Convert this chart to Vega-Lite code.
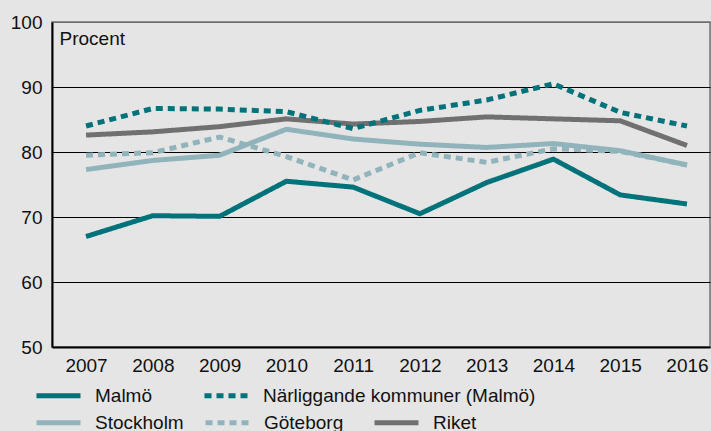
{
  "$schema": "https://vega.github.io/schema/vega-lite/v6.json",
  "width": 658,
  "height": 325,
  "autosize": "none",
  "padding": {"left": 52, "top": 22, "right": 1, "bottom": 84},
  "background": "#e5e5e5",
  "config": {
    "font": "Liberation Sans",
    "view": {"stroke": "#6f6f6f", "strokeWidth": 1.5},
    "axis": {"labelFont": "Liberation Sans", "labelFontSize": 19, "labelColor": "#111", "ticks": false, "domainColor": "#000", "domainWidth": 2},
    "legend": {"labelFont": "Liberation Sans", "labelFontSize": 19, "labelColor": "#111", "labelLimit": 400, "symbolType": "stroke", "symbolSize": 1936, "symbolStrokeWidth": 5, "labelOffset": 12, "padding": 0, "direction": "horizontal", "orient": "none"}
  },
  "datasets": {
    "a": [
      {"year": 2007, "serie": "Malmö", "value": 67.0},
      {"year": 2008, "serie": "Malmö", "value": 70.2},
      {"year": 2009, "serie": "Malmö", "value": 70.1},
      {"year": 2010, "serie": "Malmö", "value": 75.5},
      {"year": 2011, "serie": "Malmö", "value": 74.6},
      {"year": 2012, "serie": "Malmö", "value": 70.5},
      {"year": 2013, "serie": "Malmö", "value": 75.3},
      {"year": 2014, "serie": "Malmö", "value": 78.9},
      {"year": 2015, "serie": "Malmö", "value": 73.4},
      {"year": 2016, "serie": "Malmö", "value": 72.0},
      {"year": 2007, "serie": "Närliggande kommuner (Malmö)", "value": 84.0},
      {"year": 2008, "serie": "Närliggande kommuner (Malmö)", "value": 86.7},
      {"year": 2009, "serie": "Närliggande kommuner (Malmö)", "value": 86.6},
      {"year": 2010, "serie": "Närliggande kommuner (Malmö)", "value": 86.2},
      {"year": 2011, "serie": "Närliggande kommuner (Malmö)", "value": 83.6},
      {"year": 2012, "serie": "Närliggande kommuner (Malmö)", "value": 86.4},
      {"year": 2013, "serie": "Närliggande kommuner (Malmö)", "value": 88.0},
      {"year": 2014, "serie": "Närliggande kommuner (Malmö)", "value": 90.5},
      {"year": 2015, "serie": "Närliggande kommuner (Malmö)", "value": 86.1},
      {"year": 2016, "serie": "Närliggande kommuner (Malmö)", "value": 84.0}
    ],
    "b": [
      {"year": 2007, "serie": "Göteborg", "value": 79.5},
      {"year": 2008, "serie": "Göteborg", "value": 79.9},
      {"year": 2009, "serie": "Göteborg", "value": 82.3},
      {"year": 2010, "serie": "Göteborg", "value": 79.3},
      {"year": 2011, "serie": "Göteborg", "value": 75.7},
      {"year": 2012, "serie": "Göteborg", "value": 79.9},
      {"year": 2013, "serie": "Göteborg", "value": 78.4},
      {"year": 2014, "serie": "Göteborg", "value": 80.5},
      {"year": 2015, "serie": "Göteborg", "value": 80.1},
      {"year": 2016, "serie": "Göteborg", "value": 78.0},
      {"year": 2007, "serie": "Stockholm", "value": 77.3},
      {"year": 2008, "serie": "Stockholm", "value": 78.7},
      {"year": 2009, "serie": "Stockholm", "value": 79.5},
      {"year": 2010, "serie": "Stockholm", "value": 83.5},
      {"year": 2011, "serie": "Stockholm", "value": 82.0},
      {"year": 2012, "serie": "Stockholm", "value": 81.2},
      {"year": 2013, "serie": "Stockholm", "value": 80.7},
      {"year": 2014, "serie": "Stockholm", "value": 81.3},
      {"year": 2015, "serie": "Stockholm", "value": 80.2},
      {"year": 2016, "serie": "Stockholm", "value": 78.0},
      {"year": 2007, "serie": "Riket", "value": 82.6},
      {"year": 2008, "serie": "Riket", "value": 83.1},
      {"year": 2009, "serie": "Riket", "value": 83.9},
      {"year": 2010, "serie": "Riket", "value": 85.1},
      {"year": 2011, "serie": "Riket", "value": 84.3},
      {"year": 2012, "serie": "Riket", "value": 84.7},
      {"year": 2013, "serie": "Riket", "value": 85.4},
      {"year": 2014, "serie": "Riket", "value": 85.1},
      {"year": 2015, "serie": "Riket", "value": 84.8},
      {"year": 2016, "serie": "Riket", "value": 81.0}
    ]
  },
  "encoding": {
    "x": {"field": "year", "type": "quantitative",
      "scale": {"domain": [2006.49, 2016.345], "nice": false, "zero": false},
      "axis": {"values": [2007, 2008, 2009, 2010, 2011, 2012, 2013, 2014, 2015, 2016], "format": "d", "title": null, "grid": false, "labelPadding": 9, "labelFlush": false}},
    "y": {"field": "value", "type": "quantitative",
      "scale": {"domain": [50, 100], "nice": false, "zero": false},
      "axis": {"values": [50, 60, 70, 80, 90, 100], "labelPadding": 10, "grid": true,
        "gridColor": {"condition": {"test": "datum.value === 100 || datum.value === 50", "value": "#6f6f6f"}, "value": "#000"},
        "gridWidth": 1.2,
        "title": "Procent", "titleAngle": 0, "titleAlign": "left", "titleBaseline": "alphabetic", "titleX": 7, "titleY": 22,
        "titleFont": "Liberation Sans", "titleFontSize": 19, "titleFontWeight": "normal", "titleColor": "#111"}}
  },
  "layer": [
    {
      "data": {"name": "b"},
      "mark": {"type": "line", "strokeWidth": 5, "strokeCap": "butt"},
      "encoding": {
        "color": {"field": "serie", "type": "nominal",
          "scale": {"domain": ["Stockholm", "Göteborg", "Riket"], "range": ["#91b4bc", "#91b4bc", "#707070"]},
          "legend": {"title": null, "legendX": -18, "legendY": 376, "gridAlign": "all", "columnPadding": 11}},
        "strokeDash": {"field": "serie", "type": "nominal",
          "scale": {"domain": ["Stockholm", "Göteborg", "Riket"], "range": [[1, 0], [7, 5], [1, 0]]},
          "legend": {"title": null, "legendX": -18, "legendY": 376, "gridAlign": "all", "columnPadding": 11}}
      }
    },
    {
      "data": {"name": "a"},
      "mark": {"type": "line", "strokeWidth": 5, "strokeCap": "butt"},
      "encoding": {
        "color": {"field": "serie", "type": "nominal",
          "scale": {"domain": ["Malmö", "Närliggande kommuner (Malmö)"], "range": ["#00727a", "#00727a"]},
          "legend": {"title": null, "legendX": -18, "legendY": 349, "gridAlign": "each", "columnPadding": 41}},
        "strokeDash": {"field": "serie", "type": "nominal",
          "scale": {"domain": ["Malmö", "Närliggande kommuner (Malmö)"], "range": [[1, 0], [7, 5]]},
          "legend": {"title": null, "legendX": -18, "legendY": 349, "gridAlign": "each", "columnPadding": 41}}
      }
    }
  ],
  "resolve": {"scale": {"color": "independent", "strokeDash": "independent"}, "legend": {"color": "independent", "strokeDash": "independent"}}
}
